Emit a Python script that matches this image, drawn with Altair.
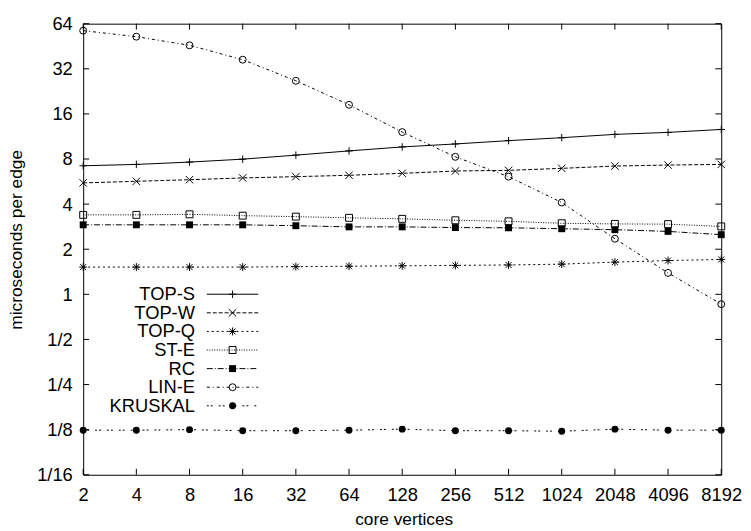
import altair as alt
import pandas as pd

# ---------------- data ----------------
core_vertices = [2, 4, 8, 16, 32, 64, 128, 256, 512, 1024, 2048, 4096, 8192]

top_s = [7.21, 7.36, 7.63, 7.98, 8.49, 9.06, 9.63, 10.08, 10.61, 11.1, 11.68, 12.04, 12.6]
top_w = [5.54, 5.68, 5.82, 5.98, 6.10, 6.23, 6.42, 6.65, 6.72, 6.93, 7.18, 7.29, 7.36]
top_q = [1.52, 1.52, 1.52, 1.52, 1.53, 1.54, 1.55, 1.56, 1.57, 1.59, 1.64, 1.68, 1.71]
st_e = [3.39, 3.39, 3.42, 3.35, 3.30, 3.24, 3.19, 3.12, 3.07, 2.98, 2.95, 2.94, 2.84]
rc = [2.91, 2.91, 2.91, 2.91, 2.87, 2.82, 2.82, 2.79, 2.78, 2.74, 2.70, 2.63, 2.50]
lin_e = [57.5, 52.4, 45.9, 36.8, 26.6, 18.4, 12.1, 8.27, 6.1, 4.1, 2.35, 1.39, 0.86]
kruskal = [0.124, 0.124, 0.125, 0.123, 0.123, 0.124, 0.126, 0.123, 0.123, 0.122, 0.126, 0.124, 0.124]

series_names = ["TOP-S", "TOP-W", "TOP-Q", "ST-E", "RC", "LIN-E", "KRUSKAL"]
series_values = [top_s, top_w, top_q, st_e, rc, lin_e, kruskal]

y_tick_values = [1 / 16, 1 / 8, 1 / 4, 1 / 2, 1, 2, 4, 8, 16, 32, 64]
y_tick_labels = ["1/16", "1/8", "1/4", "1/2", "1", "2", "4", "8", "16", "32", "64"]
x_tick_values = core_vertices

# ---------------- styles ----------------
PLUS = "M-1,0L1,0M0,-1L0,1"
CROSS = "M-1,-1L1,1M-1,1L1,-1"
STAR = "M-1,0L1,0M0,-1L0,1M-0.75,-0.75L0.75,0.75M-0.75,0.75L0.75,-0.75"
dash_patterns = [None, [4, 2], [2, 3], [1, 1.5], [6, 2, 1, 2], [3, 3, 1, 3], [2, 2, 2, 6]]
markers = [(PLUS, False, 56), (CROSS, False, 56), (STAR, False, 64),
           ("square", False, 49), ("square", True, 49),
           ("circle", False, 49), ("circle", True, 49)]

FONT = "Liberation Sans"
W, H = 645, 456
TICK = 6

xscale = alt.Scale(type="log", base=2, domain=[2, 8192], nice=False)
yscale = alt.Scale(type="log", base=2, domain=[1 / 16, 64], nice=False)

label_map = "{" + ",".join(f"'{v:g}':'{l}'" for v, l in zip(y_tick_values, y_tick_labels)) + "}"

xaxis = alt.Axis(values=x_tick_values, format="d", title="core vertices",
                 labelFlush=False, labelOverlap=False, labelPadding=11,
                 grid=False, ticks=False, domain=False,
                 titleX=324, titleY=50, titleBaseline="alphabetic", titleAlign="center")
yaxis = alt.Axis(values=y_tick_values, labelExpr=label_map + "[format(datum.value, '')]",
                 title="microseconds per edge", labelPadding=11,
                 labelOverlap=False, grid=False, ticks=False, domain=False,
                 titleX=-62, titleY=218, titleAngle=270, titleBaseline="alphabetic",
                 titleAlign="center")


def X():
    return alt.X("x:Q", scale=xscale, axis=xaxis)


def Y():
    return alt.Y("y:Q", scale=yscale, axis=yaxis)


layers = []
legend_layers = []
for i, (name, vals) in enumerate(zip(series_names, series_values)):
    df = pd.DataFrame({"x": core_vertices, "y": vals, "series": name})
    line_kw = dict(color="black", strokeWidth=1)
    if dash_patterns[i] is not None:
        line_kw["strokeDash"] = dash_patterns[i]
    shape, filled, size = markers[i]
    pt_kw = dict(shape=shape, filled=filled, size=size, strokeWidth=1,
                 color="black", opacity=1)
    if filled:
        pt_kw["fill"] = "black"
    base = alt.Chart(df)
    layers.append(base.mark_line(**line_kw).encode(x=X(), y=Y()))
    layers.append(base.mark_point(**pt_kw).encode(x=X(), y=Y()))

    # key entry (gnuplot style: label on the left, sample on the right)
    ly = 273.5 + i * 18.8
    ldf = pd.DataFrame({"series": [name]})
    lb = alt.Chart(ldf)
    legend_layers.append(
        lb.mark_text(align="right", baseline="middle", font=FONT, fontSize=18.5,
                     color="black").encode(text="series:N", x=alt.value(113), y=alt.value(ly)))
    legend_layers.append(
        lb.mark_rule(**line_kw).encode(x=alt.value(125), x2=alt.value(177), y=alt.value(ly)))
    legend_layers.append(
        lb.mark_point(**pt_kw).encode(x=alt.value(151), y=alt.value(ly)))

# inward tick marks on all four sides, driven by the scales
ydf = pd.DataFrame({"y": y_tick_values})
xdf = pd.DataFrame({"x": x_tick_values})
tick_kw = dict(color="black", strokeWidth=1)
ticks = [
    alt.Chart(ydf).mark_rule(**tick_kw).encode(y=Y(), x=alt.value(0), x2=alt.value(TICK)),
    alt.Chart(ydf).mark_rule(**tick_kw).encode(y=Y(), x=alt.value(W - TICK), x2=alt.value(W)),
    alt.Chart(xdf).mark_rule(**tick_kw).encode(x=X(), y=alt.value(H - TICK), y2=alt.value(H)),
    alt.Chart(xdf).mark_rule(**tick_kw).encode(x=X(), y=alt.value(0), y2=alt.value(TICK)),
]

chart = alt.layer(*ticks, *layers, *legend_layers).properties(
    width=W, height=H,
    autosize=alt.AutoSizeParams(type="none"),
    padding={"left": 76, "top": 13, "right": 22, "bottom": 54},
    background="white",
).configure_view(
    stroke="black", strokeWidth=1
).configure_axis(
    labelFont=FONT, labelFontSize=18.5, labelColor="black",
    titleFont=FONT, titleFontSize=17.5, titleFontWeight="normal", titleColor="black",
)

chart.save("out.html", embed_options={"renderer": "svg", "actions": False})
